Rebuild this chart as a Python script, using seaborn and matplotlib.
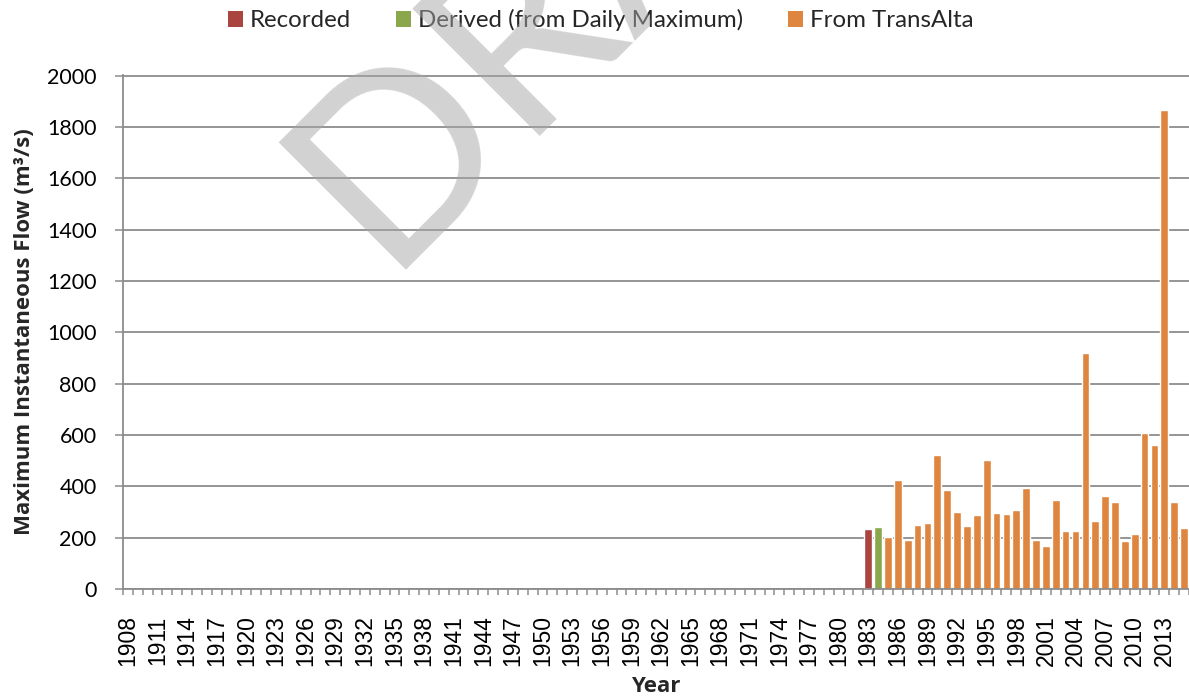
import numpy as np
import pandas as pd
import matplotlib
matplotlib.use("Agg")
import matplotlib.pyplot as plt
import seaborn as sns
from matplotlib.patches import Patch

# --- data ---
all_years = list(range(1908, 2016))
data_years = list(range(1983, 2016))
flow = [235, 243,
        204, 426, 190, 251, 257, 523, 386, 301, 244, 290,
        504, 295, 291, 308, 394, 190, 169, 345, 227, 226,
        918, 264, 364, 338, 188, 216, 609, 561, 1864, 339,
        238]
source = ["Recorded", "Derived (from Daily Maximum)"] + ["From TransAlta"] * 31
series = ["Recorded", "Derived (from Daily Maximum)", "From TransAlta"]
colors = ["#A9443F", "#8AA84B", "#DE8640"]
y_ticks = list(range(0, 2001, 200))

df = pd.DataFrame({"Year": [str(y) for y in data_years], "Flow": flow, "Source": source})

sns.set_theme(style="white")
plt.rcParams["font.family"] = ["Lato", "DejaVu Sans"]
bold_font = ["Open Sans", "DejaVu Sans"]

grey = "#8C8C8C"
fig = plt.figure(figsize=(11.89, 6.98), dpi=100)
ax = fig.add_axes([123 / 1189, 1 - 589 / 698, 1 - 123 / 1189, (589 - 75) / 698])

sns.barplot(data=df, x="Year", y="Flow", hue="Source",
            order=[str(y) for y in all_years], hue_order=series,
            palette=colors, dodge=False, width=0.78, saturation=1,
            legend=False, ax=ax)

ax.set_xlim(-0.5, len(all_years) - 0.5)
ax.set_ylim(0, 2002)
ax.set_yticks(y_ticks)
ax.set_yticklabels([str(v) for v in y_ticks], fontsize=15.5)
ax.yaxis.grid(True, color=grey, linewidth=1.3)
ax.set_axisbelow(True)

ax.set_xticks(range(0, len(all_years), 3))
ax.set_xticklabels([str(y) for y in all_years[::3]], rotation=90,
                   fontsize=16.5, family=["Liberation Sans", "DejaVu Sans"])
ax.set_xticks(np.arange(-0.5, len(all_years), 1), minor=True)
ax.tick_params(axis="x", which="major", length=0, pad=19, colors="black")
ax.tick_params(axis="x", which="minor", length=4.5, width=1.1, color=grey, bottom=True)
ax.tick_params(axis="y", length=6, width=1.1, color=grey, pad=13, left=True, labelcolor="black")

for s in ["top", "right"]:
    ax.spines[s].set_visible(False)
for s in ["left", "bottom"]:
    ax.spines[s].set_color(grey)
    ax.spines[s].set_linewidth(1.3)

ax.set_ylabel("Maximum Instantaneous Flow (m³/s)", fontsize=16, fontweight="bold",
              family=bold_font)
ax.yaxis.set_label_coords(-0.083, 0.5)
ax.set_xlabel("Year", fontsize=16, fontweight="bold", family=bold_font)
ax.xaxis.set_label_coords(0.5, -0.17)

handles = [Patch(facecolor=c, edgecolor="none", label=l) for l, c in zip(series, colors)]
fig.legend(handles=handles, loc="center", bbox_to_anchor=(0.505, 0.971), ncol=3,
           frameon=False, fontsize=17.3, handlelength=0.63, handleheight=0.63,
           handletextpad=0.3, columnspacing=1.85)

# watermark
fig.text(383 / 1189, 1 - 270 / 698, "DRAFT", rotation=45, rotation_mode="anchor",
         ha="left", va="baseline", fontsize=180, color="#A6A6A6", alpha=0.5, zorder=10)

fig.savefig("out.png", dpi=100)
